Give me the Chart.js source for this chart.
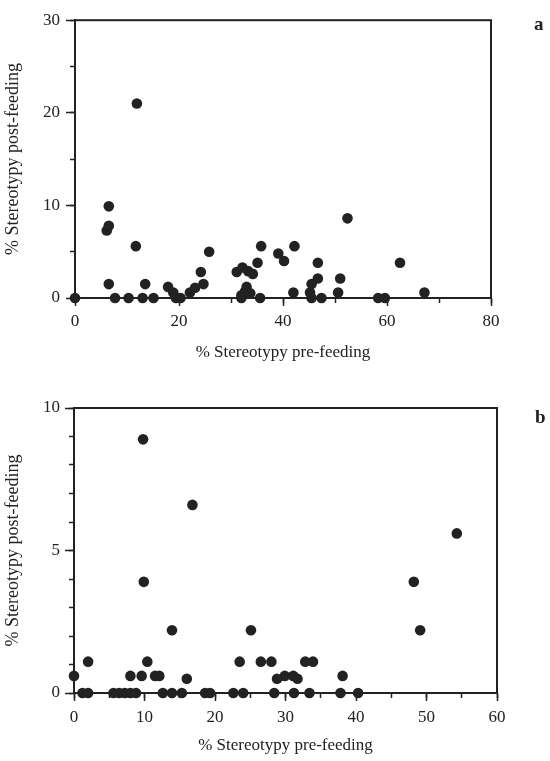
<!DOCTYPE html>
<html>
<head>
<meta charset="utf-8">
<script src="https://cdn.jsdelivr.net/npm/chart.js@4/dist/chart.umd.min.js"></script>
<style>
  html, body { margin: 0; padding: 0; background: #fff; }
  body { width: 550px; height: 761px; position: relative; overflow: hidden; }
  canvas { position: absolute; left: 0; }
  #ca { top: 0; }
  #cb { top: 370px; }
  .lab { position: absolute; font-family: "Liberation Serif", serif; font-weight: bold; font-size: 19px; color: #222; }
</style>
</head>
<body>
<canvas id="ca" width="550" height="363"></canvas>
<canvas id="cb" width="550" height="386"></canvas>
<div class="lab" style="left:534px; top:13px;">a</div>
<div class="lab" style="left:535px; top:406px;">b</div>
<script>
// Panel a: % stereotypy pre-feeding (x) vs post-feeding (y)
const aPre  = [0, 6.1, 6.5, 6.5, 6.5, 7.7, 10.3, 11.7, 11.9, 13.0, 13.5, 15.1, 17.9, 18.9, 19.4, 20.3, 22.1, 23.1, 24.2, 24.7, 25.8, 31.1, 32.0, 32.0, 32.2, 32.7, 33.0, 33.3, 33.7, 34.2, 35.1, 35.6, 35.8, 39.1, 40.2, 42.0, 42.2, 45.2, 45.5, 45.5, 46.7, 46.7, 47.4, 50.6, 51.0, 52.4, 58.3, 59.6, 62.5, 67.2];
const aPost = [0, 7.3, 9.9, 7.8, 1.5, 0, 0, 5.6, 21.0, 0, 1.5, 0, 1.2, 0.6, 0, 0, 0.6, 1.1, 2.8, 1.5, 5.0, 2.8, 0.3, 0, 3.3, 0.7, 1.2, 2.9, 0.5, 2.6, 3.8, 0, 5.6, 4.8, 4.0, 0.6, 5.6, 0.6, 1.5, 0, 3.8, 2.1, 0, 0.6, 2.1, 8.6, 0, 0, 3.8, 0.6];
// Panel b
const bPre  = [0, 1.2, 2.0, 2.0, 5.6, 6.4, 7.2, 8.0, 8.0, 8.8, 9.6, 9.8, 9.9, 10.4, 11.5, 12.1, 12.6, 13.9, 13.9, 15.3, 16.0, 16.8, 18.6, 19.3, 22.6, 23.5, 24.0, 25.1, 26.5, 28.0, 28.4, 28.8, 29.9, 31.1, 31.2, 31.7, 32.8, 33.4, 33.9, 37.8, 38.1, 40.3, 48.2, 49.1, 54.3];
const bPost = [0.6, 0, 0, 1.1, 0, 0, 0, 0, 0.6, 0, 0.6, 8.9, 3.9, 1.1, 0.6, 0.6, 0, 0, 2.2, 0, 0.5, 6.6, 0, 0, 0, 1.1, 0, 2.2, 1.1, 1.1, 0, 0.5, 0.6, 0.6, 0, 0.5, 1.1, 0, 1.1, 0, 0.6, 0, 3.9, 2.2, 5.6];

// Axis ranges / tick steps
const aX = { min: 0, max: 80, minor: 10, major: 20 };
const aY = { min: 0, max: 30, minor: 5, major: 10 };
const bX = { min: 0, max: 60, minor: 5, major: 10 };
const bY = { min: 0, max: 10, minor: 1, major: 5 };

const xTitle = '% Stereotypy pre-feeding';
const yTitle = '% Stereotypy post-feeding';

const INK = '#222';
const tickFont = { family: 'Liberation Serif', size: 17 };
const titleFont = { family: 'Liberation Serif', size: 17 };
const yTitleFont = { family: 'Liberation Serif', size: 18 };

const frame = {
  id: 'frame',
  afterDatasetsDraw(chart) {
    const { ctx, chartArea: c } = chart;
    ctx.save();
    ctx.strokeStyle = INK;
    ctx.lineWidth = 2;
    ctx.strokeRect(c.left, c.top, c.right - c.left, c.bottom - c.top);
    ctx.restore();
  }
};

function makeChart(id, xs, ys, X, Y, o) {
  const pts = xs.map((v, i) => ({ x: v, y: ys[i] }));
  return new Chart(document.getElementById(id), {
    type: 'scatter',
    data: { datasets: [{ data: pts, backgroundColor: INK, borderColor: INK, borderWidth: 0, pointRadius: 5.3, pointHoverRadius: 5.3, clip: false }] },
    options: {
      responsive: false,
      animation: false,
      events: [],
      layout: { padding: { top: o.top, right: o.right, left: 0, bottom: 0 } },
      plugins: { legend: { display: false }, tooltip: { enabled: false } },
      scales: {
        x: {
          type: 'linear', position: 'bottom', weight: 1, min: X.min, max: X.max,
          afterFit(s) { s.height = o.xh; },
          ticks: { stepSize: X.minor, color: INK, font: tickFont, padding: o.xpad, maxRotation: 0,
            callback: v => (v % X.major === 0 ? String(v) : '') },
          grid: { drawOnChartArea: false, drawTicks: true, tickLength: 5, tickColor: INK, tickWidth: 1.5 },
          border: { display: true, color: INK, width: 2 },
          title: { display: true, text: xTitle, color: INK, font: titleFont, padding: { top: 0, bottom: 0 } }
        },
        x2: {
          type: 'linear', position: 'bottom', weight: 0, min: X.min, max: X.max,
          afterFit(s) { s.height = 0; },
          ticks: { stepSize: X.major, display: false },
          grid: { drawOnChartArea: false, drawTicks: true, tickLength: 8, tickColor: INK, tickWidth: 1.5 },
          border: { display: false }
        },
        y: {
          type: 'linear', position: 'left', weight: 1, min: Y.min, max: Y.max,
          afterFit(s) { s.width = o.yw; },
          ticks: { stepSize: Y.minor, color: INK, font: tickFont, padding: o.ypad,
            callback: v => (v % Y.major === 0 ? String(v) : '') },
          grid: { drawOnChartArea: false, drawTicks: true, tickLength: 5, tickColor: INK, tickWidth: 1.5 },
          border: { display: true, color: INK, width: 2 },
          title: { display: true, text: yTitle, color: INK, font: yTitleFont, padding: { top: 2, bottom: 0 } }
        },
        y2: {
          type: 'linear', position: 'left', weight: 0, min: Y.min, max: Y.max,
          afterFit(s) { s.width = 0; },
          ticks: { stepSize: Y.major, display: false },
          grid: { drawOnChartArea: false, drawTicks: true, tickLength: 9, tickColor: INK, tickWidth: 1.5 },
          border: { display: false }
        }
      }
    },
    plugins: [frame]
  });
}

makeChart('ca', aPre, aPost, aX, aY, { top: 10, right: 59, xh: 65, yw: 75, xpad: 8, ypad: 10 });
makeChart('cb', bPre, bPost, bX, bY, { top: 38, right: 53, xh: 63, yw: 74, xpad: 9, ypad: 9 });
</script>
</body>
</html>
